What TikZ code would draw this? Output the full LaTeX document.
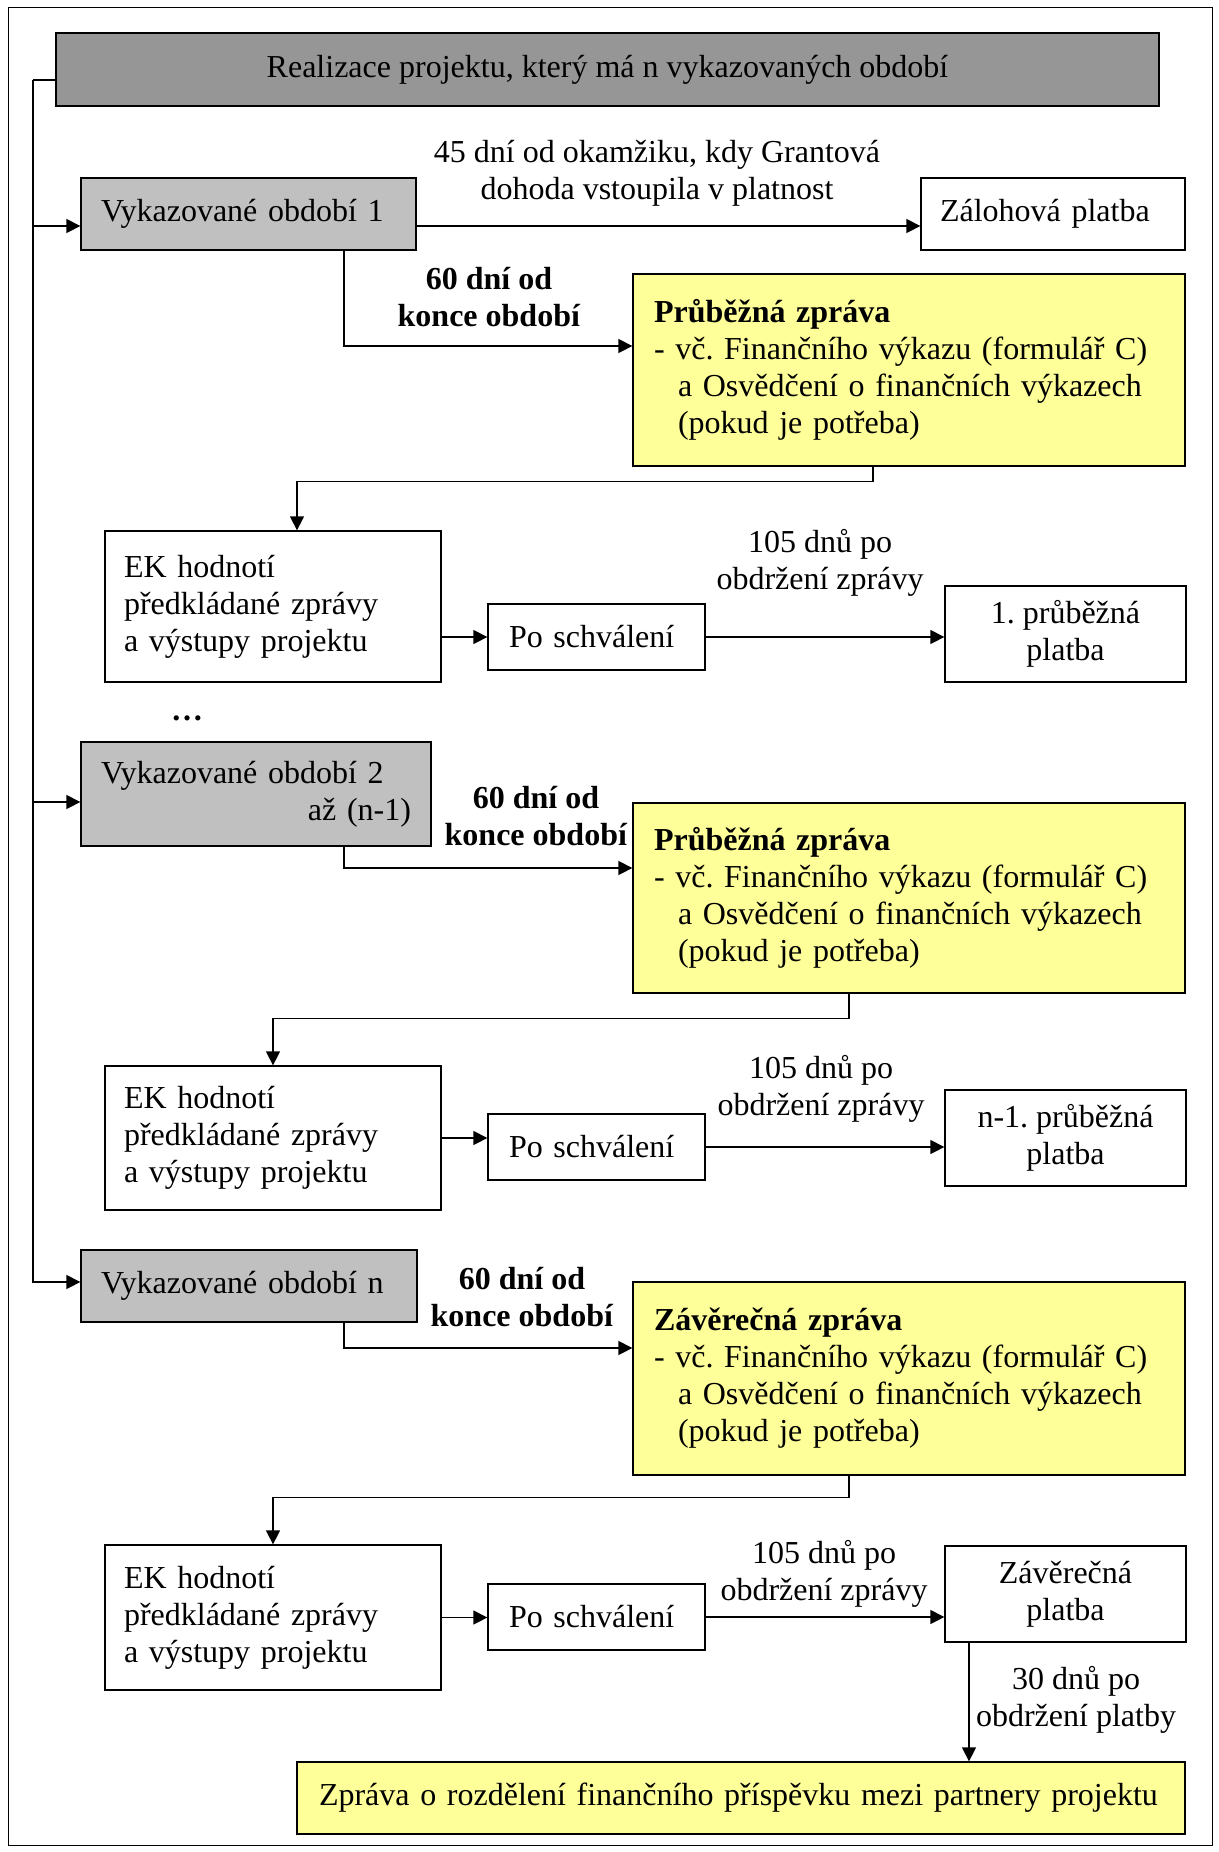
\documentclass[tikz,border=0pt]{standalone}
\usepackage{fontspec}
\setmainfont{Liberation Serif}
\usetikzlibrary{arrows.meta}
\definecolor{titlegray}{HTML}{969696}
\definecolor{periodgray}{HTML}{C0C0C0}
\definecolor{reportyellow}{HTML}{FFFF99}
\begin{document}
\begin{tikzpicture}[x=1pt,y=-1pt,font=\fontsize{32}{37}\selectfont\frenchspacing,
  box/.style={draw, line width=1.3pt, inner sep=0pt, align=left},
  lab/.style={align=center, inner sep=0pt},
  arr/.style={line width=1.3pt, -{Triangle[length=14pt,width=14pt]}}]
\useasboundingbox (0,0) rectangle (1218,1852);
\draw[line width=1pt] (8,8) rectangle (1212,1845);

\node[box, fill=titlegray, minimum width=1103pt, minimum height=73pt, align=center] (title) at (607.5,69.5){Realizace projektu, který má n vykazovaných období};

\node[box, fill=periodgray, minimum width=335pt, minimum height=72pt, text width=295pt] (v1) at (248.5,214){Vykazované období 1};
\node[box, minimum width=264pt, minimum height=72pt, text width=226pt] (zal) at (1053,214){Zálohová platba};
\node[lab] (lab45) at (657,173){45 dní od okamžiku, kdy Grantová\\dohoda vstoupila v platnost};
\node[lab] (lab60a) at (489,297){\textbf{60 dní od}\\\textbf{konce období}};
\node[box, fill=reportyellow, minimum width=552pt, minimum height=192pt, text width=510pt] (yel1) at (909,370){\textbf{Průběžná zpráva}\\- vč. Finančního výkazu (formulář C)\\\hspace*{24pt}a Osvědčení o finančních výkazech\\\hspace*{24pt}(pokud je potřeba)};
\node[box, minimum width=336pt, minimum height=151pt, text width=298pt] (ek1) at (273,606.5){EK hodnotí\\předkládané zprávy\\a výstupy projektu};
\node[box, minimum width=217pt, minimum height=66pt, text width=175pt] (po1) at (596.5,637){Po schválení};
\node[box, minimum width=241pt, minimum height=96pt, align=center] (pay1) at (1065.5,634){1. průběžná\\platba};
\node[lab] (lab105a) at (820,563){105 dnů po\\obdržení zprávy};
\node[lab] (dots) at (187,718){\textbf{…}};

\node[box, fill=periodgray, minimum width=350pt, minimum height=104pt, text width=310pt] (v2) at (256,794){Vykazované období 2\\\hspace*{\fill}až (n-1)\hspace*{6pt}};
\node[lab] (lab60b) at (536,816){\textbf{60 dní od}\\\textbf{konce období}};
\node[box, fill=reportyellow, minimum width=552pt, minimum height=190pt, text width=510pt] (yel2) at (909,898){\textbf{Průběžná zpráva}\\- vč. Finančního výkazu (formulář C)\\\hspace*{24pt}a Osvědčení o finančních výkazech\\\hspace*{24pt}(pokud je potřeba)};
\node[box, minimum width=336pt, minimum height=144pt, text width=298pt] (ek2) at (273,1138){EK hodnotí\\předkládané zprávy\\a výstupy projektu};
\node[box, minimum width=217pt, minimum height=66pt, text width=175pt] (po2) at (596.5,1147){Po schválení};
\node[box, minimum width=241pt, minimum height=96pt, align=center] (pay2) at (1065.5,1138){n-1. průběžná\\platba};
\node[lab] (lab105b) at (821,1089){105 dnů po\\obdržení zprávy};

\node[box, fill=periodgray, minimum width=336pt, minimum height=72pt, text width=296pt] (vn) at (249,1286){Vykazované období n};
\node[lab] (lab60c) at (522,1297){\textbf{60 dní od}\\\textbf{konce období}};
\node[box, fill=reportyellow, minimum width=552pt, minimum height=193pt, text width=510pt] (yel3) at (909,1378.5){\textbf{Závěrečná zpráva}\\- vč. Finančního výkazu (formulář C)\\\hspace*{24pt}a Osvědčení o finančních výkazech\\\hspace*{24pt}(pokud je potřeba)};
\node[box, minimum width=336pt, minimum height=145pt, text width=298pt] (ek3) at (273,1617.5){EK hodnotí\\předkládané zprávy\\a výstupy projektu};
\node[box, minimum width=217pt, minimum height=66pt, text width=175pt] (po3) at (596.5,1617){Po schválení};
\node[box, minimum width=241pt, minimum height=96pt, align=center] (pay3) at (1065.5,1594){Závěrečná\\platba};
\node[lab] (lab105c) at (824,1574){105 dnů po\\obdržení zprávy};
\node[lab] (lab30) at (1076,1700){30 dnů po\\obdržení platby};
\node[box, fill=reportyellow, minimum width=888pt, minimum height=72pt, text width=844pt] (fin) at (741,1798){Zpráva o rozdělení finančního příspěvku mezi partnery projektu};

\coordinate (sp) at (33,80);
\draw[line width=1.3pt] (title.west |- sp) -- (sp);
\draw[arr] (sp) |- ([yshift=-12pt]v1.west);
\draw[arr] (sp) |- ([yshift=-8pt]v2.west);
\draw[arr] (sp) |- ([yshift=4pt]vn.west);

\draw[arr] ([yshift=-12pt]v1.east) -- ([yshift=-12pt]zal.west);
\draw[arr] ([xshift=95.5pt]v1.south) |- ([yshift=24pt]yel1.west);
\draw[arr] ([xshift=-36pt]yel1.south) -- ++(0,15) -| ([xshift=24pt]ek1.north);
\draw[arr] (ek1.east |- po1.west) -- (po1.west);
\draw[arr] (po1.east) -- (pay1.west |- po1.east);

\draw[arr] ([xshift=88pt]v2.south) |- ([yshift=30pt]yel2.west);
\draw[arr] ([xshift=-60pt]yel2.south) -- ++(0,25) -| (ek2.north);
\draw[arr] (ek2.east) -- (po2.west |- ek2.east);
\draw[arr] (po2.east) -- (pay2.west |- po2.east);

\draw[arr] ([xshift=95pt]vn.south) |- ([yshift=30.5pt]yel3.west);
\draw[arr] ([xshift=-60pt]yel3.south) -- ++(0,22) -| (ek3.north);
\draw[arr] (ek3.east) -- (po3.west |- ek3.east);
\draw[arr] (po3.east) -- (pay3.west |- po3.east);
\draw[arr] ([xshift=-96.5pt]pay3.south) -- ([xshift=-96.5pt]pay3.south |- fin.north);

\end{tikzpicture}
\end{document}
